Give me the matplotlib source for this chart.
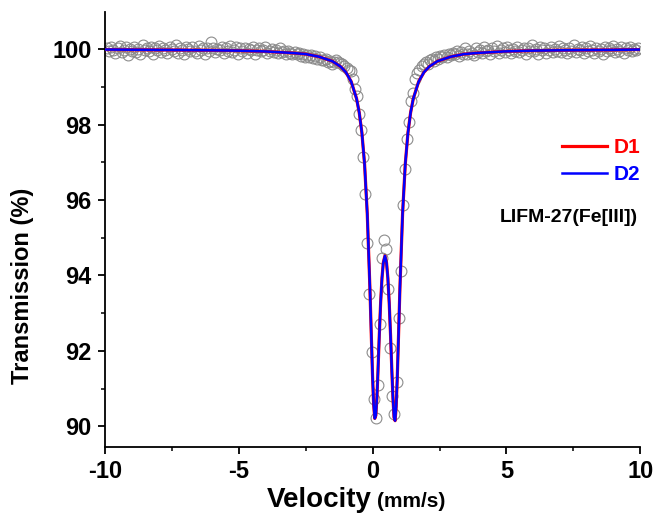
import numpy as np
import matplotlib
matplotlib.use("Agg")
import matplotlib.pyplot as plt
from matplotlib.lines import Line2D
from matplotlib.ticker import MultipleLocator

plt.rcParams['font.family'] = ['Liberation Sans', 'DejaVu Sans']
plt.rcParams['axes.unicode_minus'] = False

# ---- data -------------------------------------------------------------
v_min, v_max = -9.92, 9.92          # velocity range of the channels (mm/s)

transmission = [
    100.02, 99.95, 100.05, 99.98, 99.90, 100.04, 100.08, 99.93, 99.99, 100.06, 99.85, 100.01, 99.96,
    100.07, 99.92, 100.00, 99.88, 100.10, 99.97, 100.03, 99.94, 100.05, 99.86, 100.02, 99.99, 100.08,
    99.93, 100.04, 99.97, 99.89, 100.06, 100.01, 99.95, 100.12, 99.91, 100.03, 99.98, 99.87, 100.05,
    100.00, 99.94, 100.07, 99.96, 99.90, 100.09, 99.99, 100.03, 99.88, 100.02, 99.95, 100.18, 100.04,
    99.92, 100.01, 99.97, 100.06, 99.89, 100.03, 99.95, 100.08, 99.93, 99.99, 100.05, 99.87, 100.02,
    99.96, 100.04, 99.91, 100.00, 99.97, 100.07, 99.88, 99.98, 100.03, 99.94, 99.99, 100.05, 99.90,
    99.96, 100.01, 99.92, 99.97, 99.89, 100.02, 99.93, 99.95, 99.86, 99.96, 99.91, 99.88, 99.93,
    99.86, 99.90, 99.83, 99.88, 99.80, 99.85, 99.79, 99.84, 99.76, 99.81, 99.74, 99.78, 99.72,
    99.70, 99.74, 99.66, 99.68, 99.62, 99.65, 99.72, 99.66, 99.64, 99.60, 99.55, 99.50, 99.45,
    99.42, 99.20, 98.95, 98.76, 98.28, 97.85, 97.13, 96.15, 94.85, 93.52, 91.96, 90.72, 90.21,
    91.09, 92.71, 94.46, 94.93, 94.69, 93.63, 92.07, 90.80, 90.34, 91.17, 92.86, 94.11, 95.87,
    96.82, 97.61, 98.07, 98.63, 98.85, 99.20, 99.38, 99.45, 99.55, 99.60,
    99.66, 99.62, 99.70, 99.74, 99.69, 99.78, 99.75, 99.82, 99.79, 99.85, 99.80, 99.88, 99.84,
    99.90, 99.86, 99.95, 99.83, 99.92, 99.88, 100.02, 99.87, 99.96, 99.91, 99.85, 100.04, 99.93,
    99.97, 99.89, 100.06, 99.94, 99.99, 99.86, 100.03, 99.95, 100.08, 99.91, 99.98, 100.02, 99.93,
    100.05, 99.97, 99.90, 100.01, 99.95, 100.07, 99.92, 99.99, 100.04, 99.88, 100.02, 99.96, 100.10,
    99.94, 100.00, 99.87, 100.05, 99.97, 100.03, 99.91, 99.98, 100.06, 99.93, 100.01, 99.95, 100.09,
    99.92, 100.04, 99.98, 99.89, 100.02, 99.96, 100.11, 99.93, 100.00, 99.97, 100.05, 99.90, 100.03,
    99.95, 100.08, 99.99, 99.91, 100.04, 99.96, 100.01, 99.88, 100.06, 99.94, 100.02, 99.97, 100.09,
    99.93, 100.00, 99.96, 100.05, 99.90, 100.03, 99.98, 100.07, 99.94, 100.01, 99.97, 100.04,
]

fit_velocity = [
    -10, -8, -6, -5, -4, -3, -2.5, -2, -1.5, -1.2, -1.0, -0.8, -0.6, -0.5, -0.4, -0.3,
    -0.2, -0.1, -0.05, 0.0, 0.04, 0.08, 0.12, 0.16, 0.20, 0.25, 0.30, 0.35, 0.40, 0.46,
    0.52, 0.57, 0.62, 0.67, 0.72, 0.76, 0.80, 0.84, 0.88, 0.92, 0.97, 1.02, 1.12, 1.22,
    1.32, 1.42, 1.52, 1.72, 1.92, 2.12, 2.42, 2.92, 3.42, 3.92, 4.92, 5.92, 6.92, 8.92, 10,
]
fit_D1 = [
    99.99, 99.98, 99.97, 99.96, 99.94, 99.90, 99.87, 99.80, 99.68, 99.54, 99.39, 99.14, 98.69, 98.32, 97.78, 96.95,
    95.64, 93.65, 92.44, 91.28, 90.57, 90.21, 90.29, 90.75, 91.45, 92.42, 93.28, 93.93, 94.34, 94.52,
    94.34, 93.93, 93.28, 92.42, 91.45, 90.75, 90.24, 90.15, 90.52, 91.26, 92.44, 93.65, 95.64, 96.95,
    97.78, 98.32, 98.69, 99.14, 99.39, 99.54, 99.68, 99.80, 99.87, 99.90, 99.94, 99.96, 99.97, 99.98, 99.99,
]
fit_D2 = [
    99.99, 99.98, 99.97, 99.96, 99.94, 99.90, 99.87, 99.80, 99.68, 99.54, 99.39, 99.14, 98.69, 98.32, 97.78, 96.95,
    95.64, 93.65, 92.44, 91.28, 90.57, 90.21, 90.29, 90.75, 91.45, 92.42, 93.28, 93.93, 94.34, 94.52,
    94.34, 93.93, 93.28, 92.42, 91.45, 90.75, 90.24, 90.15, 90.52, 91.26, 92.44, 93.65, 95.64, 96.95,
    97.78, 98.32, 98.69, 99.14, 99.39, 99.54, 99.68, 99.80, 99.87, 99.90, 99.94, 99.96, 99.97, 99.98, 99.99,
]

series_labels = ["D1", "D2"]
series_colors = ['#ff0000', '#0000ff']
sample_label = "LIFM-27(Fe[III])"

# ---- figure -------------------------------------------------------------
fig = plt.figure(figsize=(6.56, 5.31), dpi=100)
ax = fig.add_axes([0.160, 0.158, 0.816, 0.819])

velocity = np.linspace(v_min, v_max, len(transmission))
ax.plot(velocity, transmission, linestyle='none', marker='o', ms=7.8,
        mfc='none', mec='#8c8c8c', mew=0.8, zorder=2)
ax.plot(fit_velocity, fit_D1, color=series_colors[0], lw=2.3, zorder=3)
ax.plot(fit_velocity, fit_D2, color=series_colors[1], lw=1.8, zorder=4)

ax.set_xlim(-10, 10)
ax.set_ylim(89.45, 100.98)
ax.xaxis.set_major_locator(MultipleLocator(5))
ax.xaxis.set_minor_locator(MultipleLocator(2.5))
ax.yaxis.set_major_locator(MultipleLocator(2))
ax.yaxis.set_minor_locator(MultipleLocator(1))

for s in ['top', 'right']:
    ax.spines[s].set_visible(False)
for s in ['left', 'bottom']:
    ax.spines[s].set_linewidth(1.3)

ax.tick_params(which='major', direction='out', length=5, width=1.3, labelsize=17, pad=4.5)
ax.tick_params(which='minor', direction='out', length=3, width=1.1)
for lab in ax.get_xticklabels() + ax.get_yticklabels():
    lab.set_fontweight('bold')

# axis labels
fig.text(0.567, 0.045, "Velocity", fontsize=20, fontweight='bold', ha='right', va='baseline')
fig.text(0.575, 0.045, "(mm/s)", fontsize=15, fontweight='bold', ha='left', va='baseline')
ax.set_ylabel("Transmission (%)", fontsize=17, fontweight='bold')
ax.yaxis.set_label_coords(-0.133, 0.37)

# legend (drawn by hand to match the original placement)
legend_y = [0.692, 0.630]
for lab, col, y, lw in zip(series_labels, series_colors, legend_y, [2.3, 1.8]):
    ax.add_line(Line2D([0.854, 0.938], [y, y], transform=ax.transAxes, color=col, lw=lw))
    ax.text(0.951, y - 0.016, lab, transform=ax.transAxes, ha='left', va='baseline',
            fontsize=15, fontweight='bold', color=col)
ax.text(0.996, 0.518, sample_label, transform=ax.transAxes, ha='right', va='baseline',
        fontsize=14, fontweight='bold')

fig.savefig("out.png", dpi=100)
